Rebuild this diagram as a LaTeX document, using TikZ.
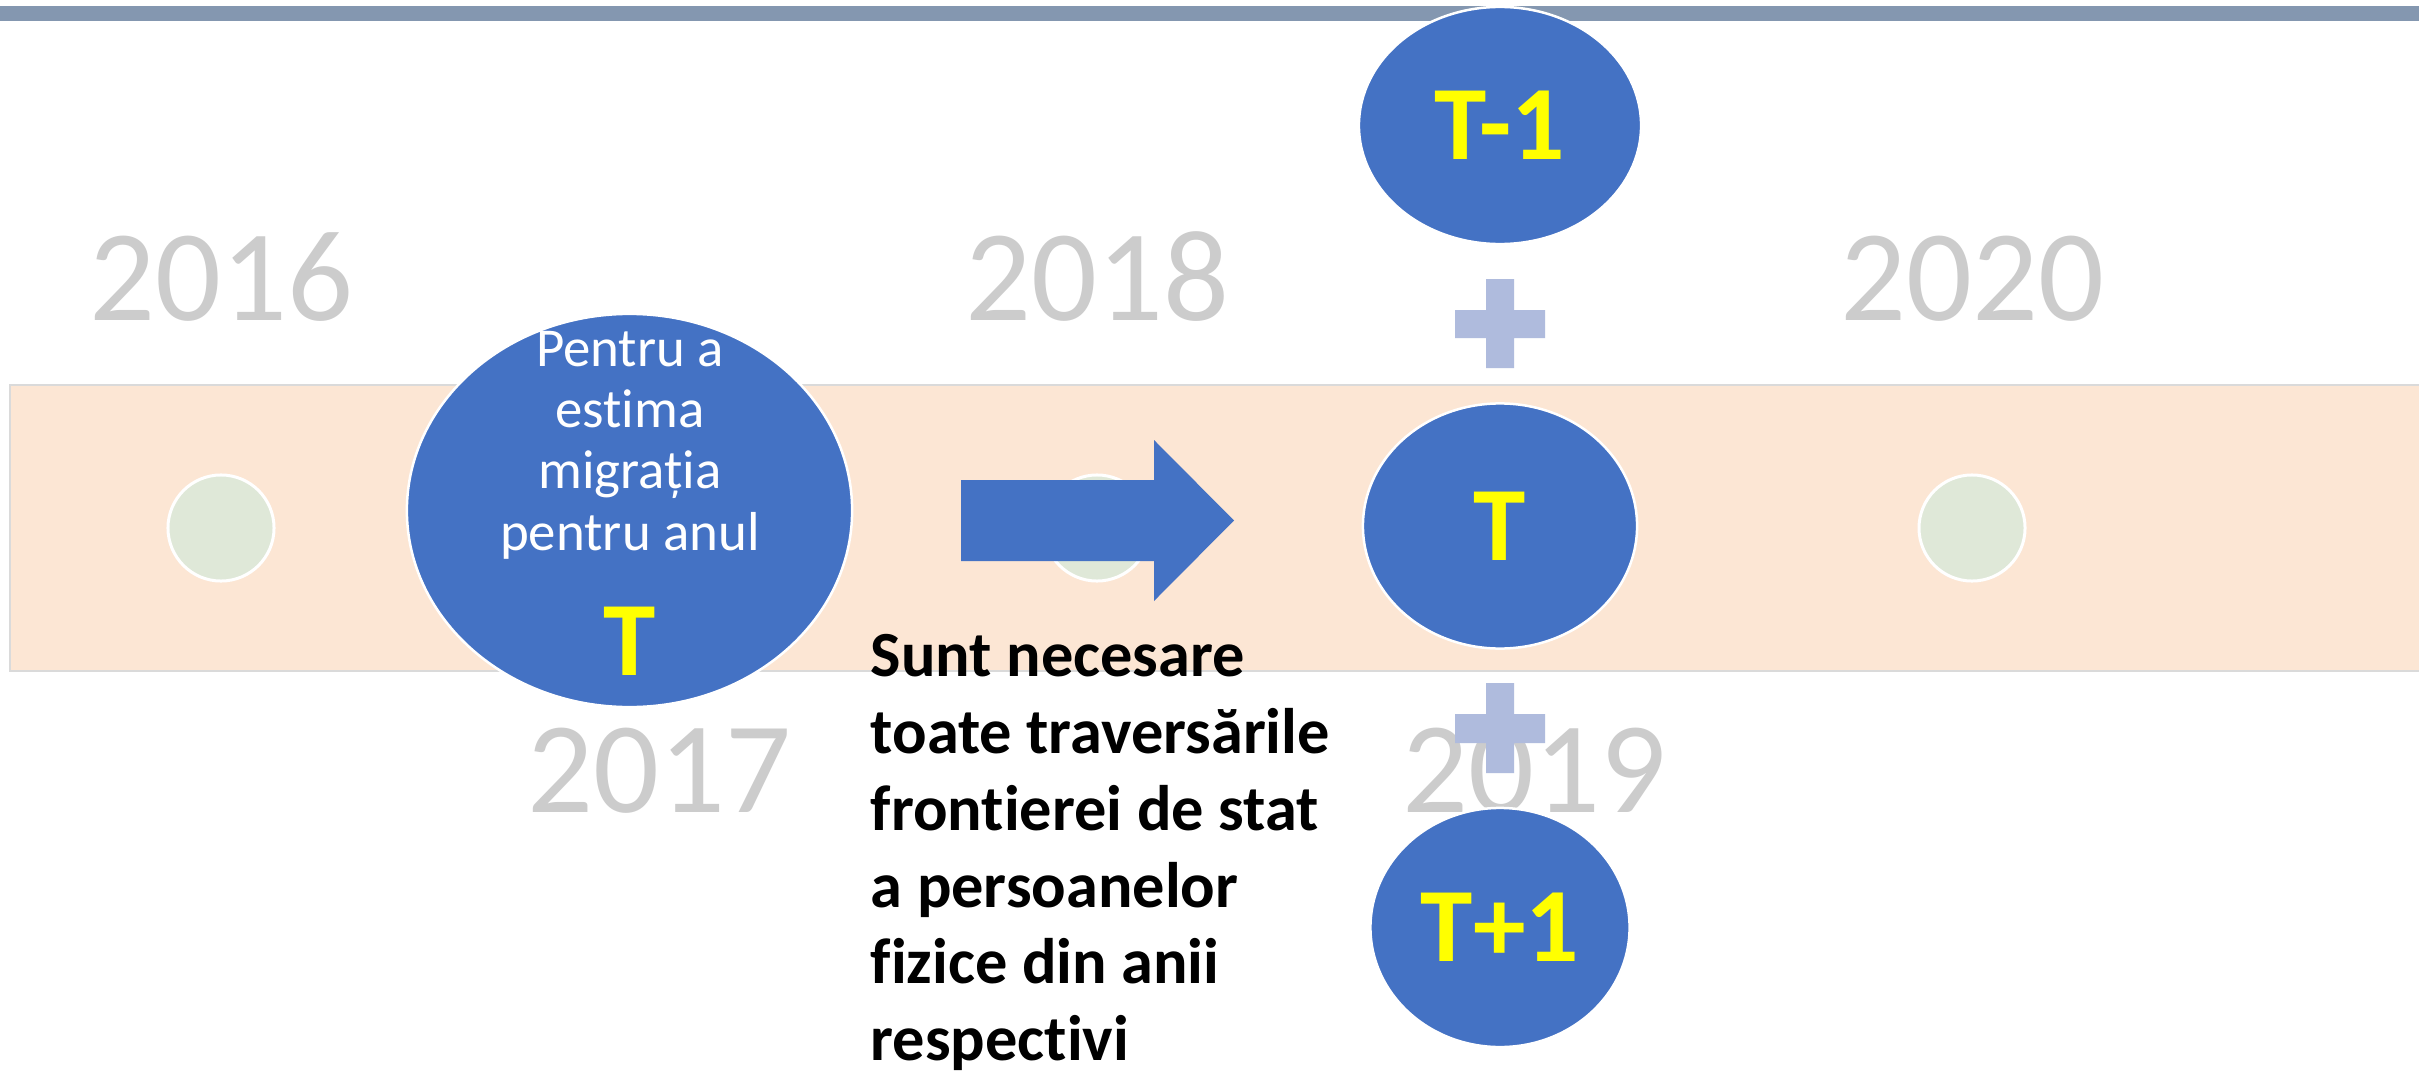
\documentclass[tikz,border=0pt]{standalone}
\usepackage{fontspec}
\setmainfont{Carlito}[Ligatures={NoCommon}]
\usetikzlibrary{shapes.geometric}
\definecolor{ellblue}{HTML}{4472C4}
\definecolor{peach}{HTML}{FCE6D4}
\definecolor{bandline}{HTML}{DADADA}
\definecolor{dotgreen}{HTML}{DFE8D8}
\definecolor{barc}{HTML}{8497B0}
\definecolor{plusc}{HTML}{AFBBDD}
\definecolor{yeargray}{HTML}{CCCCCC}
\definecolor{tyellow}{HTML}{FFFF00}
\tikzset{
  dotnode/.style={circle, fill=dotgreen, draw=white, line width=0.03cm, minimum size=1.06cm, inner sep=0pt},
  year/.style={anchor=base, inner sep=0pt, text=yeargray, font=\fontsize{37}{40}\selectfont},
  ell/.style={ellipse, fill=ellblue, draw=white, line width=0.025cm, inner sep=0pt},
  yel/.style={text=tyellow, font=\fontsize{30}{34}\selectfont\bfseries},
  wtxt/.style={anchor=base, inner sep=0pt, text=white, font=\fontsize{15.6}{18}\selectfont},
  btxt/.style={anchor=base west, inner sep=0pt, text=black, font=\fontsize{18.3}{21}\selectfont\bfseries},
  plusfill/.style={fill=plusc}
}
\begin{document}
\begin{tikzpicture}[x=0.01cm,y=-0.01cm]
\useasboundingbox (0,0) rectangle (2419,1070);
\fill[white] (0,0) rectangle (2419,1070);
% band
\fill[peach] (10,385) rectangle (2419,671);
\draw[bandline, line width=0.015cm] (2419,385) -- (10,385) -- (10,671) -- (2419,671);
% top bar
\fill[barc] (0,6) rectangle (2419,21);
% dots
\node[dotnode] (d16) at (221,528) {};
\node[dotnode] (d18) at (1097,528) {};
\node[dotnode] (d20) at (1972,528) {};
% years
\node[year] (y16) at (221,320) {2016};
\node[year] (y18) at (1097,320) {2018};
\node[year] (y20) at (1972,320) {2020};
\node[year] (y17) at (659,812) {2017};
\node[year] (y19) at (1534,812) {2019};
% big ellipse
\node[ell, minimum width=4.45cm, minimum height=3.93cm] (est) at (629.5,510.5) {};
\node[wtxt] (l1) at (630,366) {Pentru a};
\node[wtxt] (l2) at (630,427) {estima};
\node[wtxt] (l3) at (630,488) {migrația};
\node[wtxt] (l4) at (630,550) {pentru anul};
\node[yel, anchor=base, inner sep=0pt] (tbig) at (630,675) {T};
% arrow
\fill[ellblue] (961,480) -- (1154,480) -- (1154,440) -- (1234,520.5) -- (1154,601) -- (1154,561) -- (961,561) -- cycle;
% year ellipses
\node[ell, yel, minimum width=2.82cm, minimum height=2.37cm] (tm1) at (1500,125.5) {T-1};
\node[ell, yel, minimum width=2.74cm, minimum height=2.45cm] (t0) at (1500,526) {T};
\node[ell, yel, minimum width=2.59cm, minimum height=2.39cm] (tp1) at (1500,927.5) {T+1};
% plus signs
\fill[plusfill] (1486,279) rectangle (1514,368) (1455,310) rectangle (1545,338);
\fill[plusfill] (1486,683) rectangle (1514,773) (1455,714) rectangle (1545,743);
% black text
\node[btxt] (s1) at (870,676) {Sunt necesare};
\node[btxt] (s2) at (870,753) {toate traversările};
\node[btxt] (s3) at (870,830) {frontierei de stat};
\node[btxt] (s4) at (870,907) {a persoanelor};
\node[btxt] (s5) at (870,983) {fizice din anii};
\node[btxt] (s6) at (870,1060) {respectivi};
\end{tikzpicture}
\end{document}
